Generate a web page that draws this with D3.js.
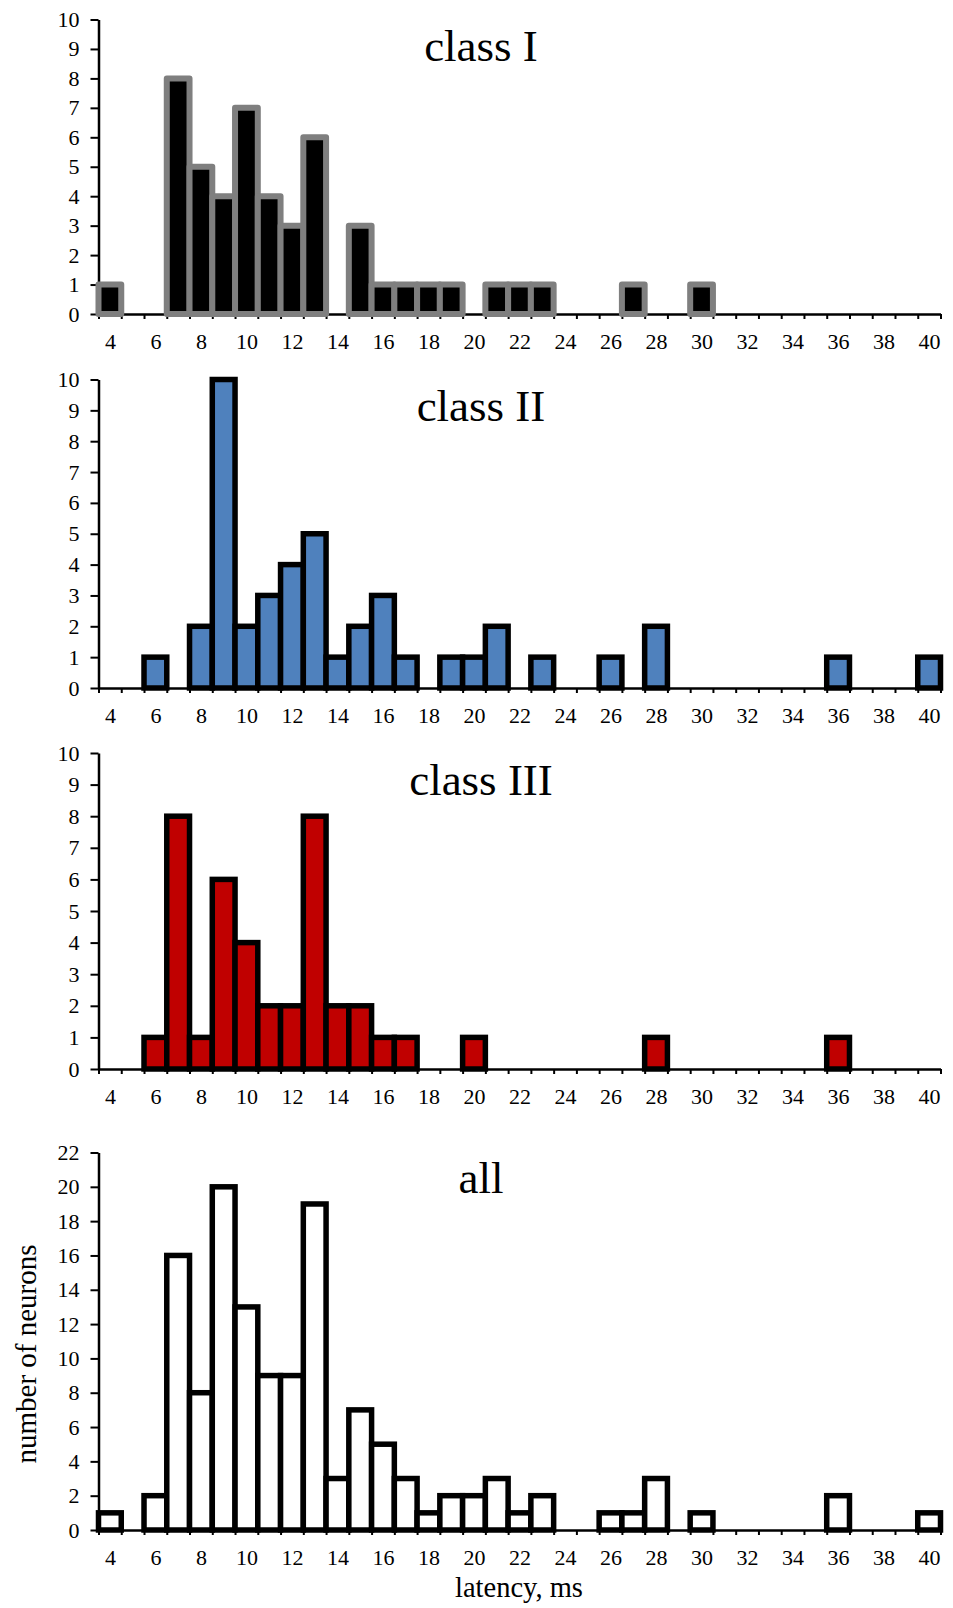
<!DOCTYPE html>
<html>
<head>
<meta charset="utf-8">
<script src="https://cdn.jsdelivr.net/npm/d3@7"></script>
<style>
  body { margin: 0; background: #fff; }
  text { font-family: "Liberation Serif", "Times New Roman", serif; fill: #000; }
</style>
</head>
<body>
<div id="chart"></div>
<script>
// latency bins, ms
const latency = [4,5,6,7,8,9,10,11,12,13,14,15,16,17,18,19,20,21,22,23,24,25,26,27,28,29,30,31,32,33,34,35,36,37,38,39,40]
const xLabels = [4,6,8,10,12,14,16,18,20,22,24,26,28,30,32,34,36,38,40]

// number of neurons per bin
const classI   = [1,0,0,8,5,4,7,4,3,6,0,3,1,1,1,1,0,1,1,1,0,0,0,1,0,0,1,0,0,0,0,0,0,0,0,0,0]
const classII  = [0,0,1,0,2,10,2,3,4,5,1,2,3,1,0,1,1,2,0,1,0,0,1,0,2,0,0,0,0,0,0,0,1,0,0,0,1]
const classIII = [0,0,1,8,1,6,4,2,2,8,2,2,1,1,0,0,1,0,0,0,0,0,0,0,1,0,0,0,0,0,0,0,1,0,0,0,0]
const allCells = [1,0,2,16,8,20,13,9,9,19,3,7,5,3,1,2,2,3,1,2,0,0,1,1,3,0,1,0,0,0,0,0,2,0,0,0,1]

const titles = ["class I", "class II", "class III", "all"]
const yMax = [10, 10, 10, 22]
const yStep = [1, 1, 1, 2]

const width = 953
const height = 1608
const left = 98.5
const right = 940.5
const serif = "'Liberation Serif', 'Times New Roman', serif"

// layout of each panel: baseline and top of the y axis, title baseline
const panels = [
  {values: classI,   bottom: 314,  top: 19.5,  titleY: 61,   fill: "#000000", stroke: "#7f7f7f", sw: 6},
  {values: classII,  bottom: 688,  top: 379.5, titleY: 421,  fill: "#4f81bd", stroke: "#000000", sw: 5.5},
  {values: classIII, bottom: 1069, top: 753,   titleY: 795,  fill: "#c00000", stroke: "#000000", sw: 5.5},
  {values: allCells, bottom: 1530, top: 1152.5, titleY: 1193, fill: "#ffffff", stroke: "#000000", sw: 5.5},
]

const svg = d3.select("#chart").append("svg")
  .attr("width", width)
  .attr("height", height)

const x = d3.scaleLinear().domain([3.5, 40.5]).range([left, right])
const edges = latency.map(d => d - 0.5).concat([40.5])

panels.forEach((p, i) => {
  const y = d3.scaleLinear().domain([0, yMax[i]]).range([p.bottom, p.top])
  const g = svg.append("g")

  // x axis: ticks at bin edges
  const xEdgeAxis = g.append("g")
    .attr("transform", `translate(0,${p.bottom})`)
    .call(d3.axisBottom(x).tickValues(edges).tickSize(5).tickSizeOuter(0).tickFormat(""))
  xEdgeAxis.select(".domain").attr("stroke-width", 2.5)
  xEdgeAxis.selectAll(".tick line").attr("stroke-width", 2)

  // x labels at bin centers
  const xLabelAxis = g.append("g")
    .attr("transform", `translate(0,${p.bottom})`)
    .call(d3.axisBottom(x).tickValues(xLabels).tickSize(0).tickPadding(19).tickFormat(d3.format("d")))
    .attr("font-family", serif)
    .attr("font-size", 22)
  xLabelAxis.select(".domain").remove()
  xLabelAxis.selectAll("text").attr("dy", "0.71em")

  // y axis
  const yTicks = d3.range(0, yMax[i] + 1, yStep[i])
  const yAxis = g.append("g")
    .attr("transform", `translate(${left},0)`)
    .call(d3.axisLeft(y).tickValues(yTicks).tickSize(8).tickSizeOuter(0).tickPadding(11).tickFormat(d3.format("d")))
    .attr("font-family", serif)
    .attr("font-size", 22)
  yAxis.select(".domain").attr("stroke-width", 2.5)
  yAxis.selectAll(".tick line").attr("stroke-width", 2)

  // bars
  const bins = latency.map((d, k) => ({lat: d, n: p.values[k]})).filter(d => d.n > 0)
  g.append("g").selectAll("rect")
    .data(bins)
    .enter()
    .append("rect")
    .attr("x", d => x(d.lat - 0.5))
    .attr("width", d => x(d.lat + 0.5) - x(d.lat - 0.5))
    .attr("y", d => y(d.n))
    .attr("height", d => y(0) - y(d.n))
    .attr("fill", p.fill)
    .attr("stroke", p.stroke)
    .attr("stroke-width", p.sw)
    .attr("stroke-linejoin", i === 0 ? "round" : "miter")

  // panel title
  g.append("text")
    .attr("x", 481)
    .attr("y", p.titleY)
    .attr("text-anchor", "middle")
    .style("font-size", "45px")
    .text(titles[i])
})

// axis titles
svg.append("text")
  .attr("transform", `translate(36,1354) rotate(-90)`)
  .attr("text-anchor", "middle")
  .style("font-size", "29px")
  .text("number of neurons")

svg.append("text")
  .attr("x", 519)
  .attr("y", 1597)
  .attr("text-anchor", "middle")
  .style("font-size", "28.5px")
  .text("latency, ms")
</script>
</body>
</html>
